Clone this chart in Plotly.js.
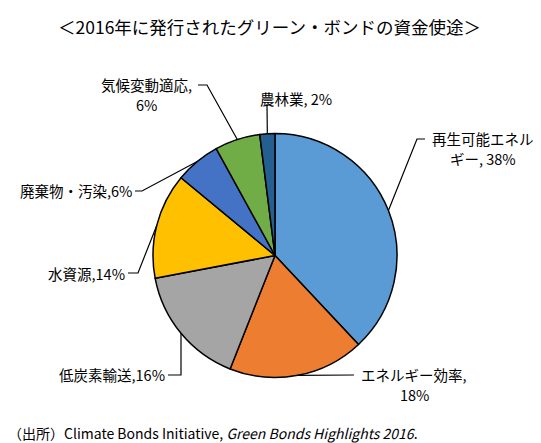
<!DOCTYPE html>
<html>
<head>
<meta charset="utf-8">
<script src="https://cdn.plot.ly/plotly-3.0.1.min.js"></script>
<style>
  html, body { margin: 0; padding: 0; background: #fff; }
  #chart { width: 541px; height: 443px; }
</style>
</head>
<body>
<div id="chart"></div>
<script>
// Data
const categories = ['再生可能エネルギー', 'エネルギー効率', '低炭素輸送', '水資源', '廃棄物・汚染', '気候変動適応', '農林業'];
const shares = [38, 18, 16, 14, 6, 6, 2];
const sliceLabels = [
    '再生可能エネル<br>ギー, 38%',
    'エネルギー効率,<br>18%',
    '低炭素輸送,16%',
    '水資源,14%',
    '廃棄物・汚染,6%',
    '気候変動適応,<br>6%',
    '農林業, 2%'
];
const colors = ['#5B9BD5', '#ED7D31', '#A5A5A5', '#FFC000', '#4472C4', '#70AD47', '#255E91'];

// Layout (pixels in the 541x443 page)
const W = 541, H = 443;
const cx = 275, cy = 255.5, R = 122;
const LINE_STEP = 20;
const FONT = '"Noto Sans CJK JP", "Noto Sans", sans-serif';

// leader line elbow/end and label anchor (first line) for each slice
const leaders = [
    {elbow: [417, 139], end: [425, 139], text: [483, 138], anchor: 'center'},
    {elbow: [354, 375], end: [354, 375], text: [414, 374], anchor: 'center'},
    {elbow: [181, 375], end: [168, 375], text: [167, 374], anchor: 'right'},
    {elbow: [138, 273], end: [128, 273], text: [127, 273], anchor: 'right'},
    {elbow: [142, 191], end: [135, 191], text: [134, 190], anchor: 'right'},
    {elbow: [207, 85], end: [198, 85], text: [146, 84], anchor: 'center'},
    {elbow: [267, 104], end: [267, 104], text: [296, 98], anchor: 'center'}
];

const px = x => x / W;
const py = y => 1 - y / H;

// start point of each leader: middle of the slice arc
const total = shares.reduce((a, b) => a + b, 0);
let cum = 0;
const shapes = [];
const annotations = [];
shares.forEach((v, i) => {
    const mid = (cum + v / 2) / total * 2 * Math.PI;
    cum += v;
    const sx = cx + R * Math.sin(mid);
    const sy = cy - R * Math.cos(mid);
    const L = leaders[i];
    shapes.push({
        type: 'path', xref: 'paper', yref: 'paper',
        path: `M ${px(sx)},${py(sy)} L ${px(L.elbow[0])},${py(L.elbow[1])} L ${px(L.end[0])},${py(L.end[1])}`,
        line: {color: '#000', width: 1.2}
    });
    sliceLabels[i].split('<br>').forEach((line, k) => {
        annotations.push({
            xref: 'paper', yref: 'paper',
            x: px(L.text[0]), y: py(L.text[1] + k * LINE_STEP),
            xanchor: L.anchor, yanchor: 'middle',
            text: line, showarrow: false,
            font: {family: FONT, size: 14.5, color: '#000'}
        });
    });
});

annotations.push({
    xref: 'paper', yref: 'paper', x: px(269), y: py(27),
    xanchor: 'center', yanchor: 'middle', showarrow: false,
    text: '＜2016年に発行されたグリーン・ボンドの資金使途＞',
    font: {family: FONT, size: 17.5, color: '#000'}
});
annotations.push({
    xref: 'paper', yref: 'paper', x: px(6), y: py(433),
    xanchor: 'left', yanchor: 'middle', showarrow: false,
    text: '（出所）Climate Bonds Initiative, <i>Green Bonds Highlights 2016</i>.',
    font: {family: FONT, size: 14, color: '#000'}
});

Plotly.newPlot('chart', [{
    type: 'pie',
    labels: categories,
    values: shares,
    sort: false,
    direction: 'clockwise',
    rotation: 0,
    textinfo: 'none',
    hoverinfo: 'label+percent',
    marker: {colors: colors, line: {color: '#000', width: 1.5}},
    domain: {x: [px(cx - R), px(cx + R)], y: [py(cy + R), py(cy - R)]}
}], {
    width: W, height: H,
    margin: {l: 0, r: 0, t: 0, b: 0},
    showlegend: false,
    paper_bgcolor: '#fff',
    shapes: shapes,
    annotations: annotations
}, {displayModeBar: false, staticPlot: true});
</script>
</body>
</html>
